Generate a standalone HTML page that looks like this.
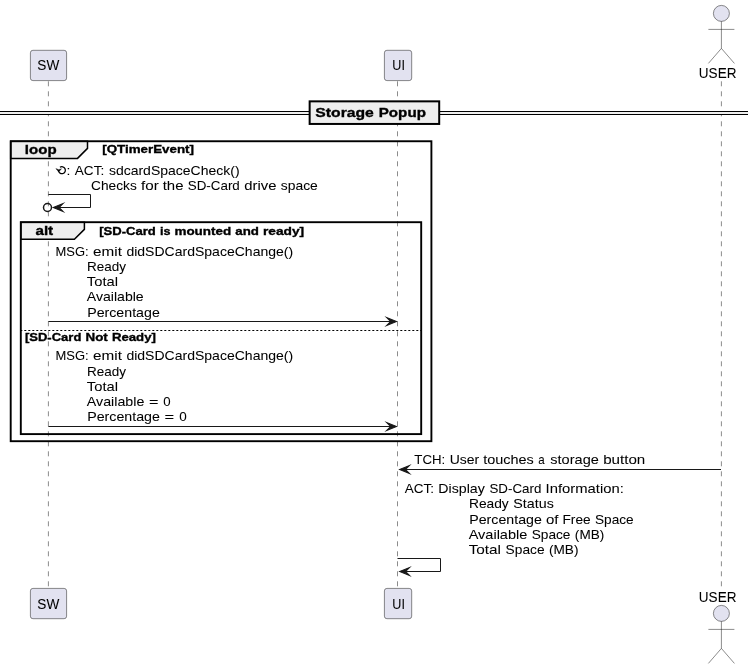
<!DOCTYPE html>
<html><head><meta charset="utf-8"><title>Storage Popup sequence diagram</title>
<style>
html,body{margin:0;padding:0;background:#ffffff;}
body{width:754px;height:669px;overflow:hidden;font-family:"Liberation Sans",sans-serif;}
svg{display:block;will-change:transform;}
</style></head><body>
<svg width="754" height="669" viewBox="0 0 754 669" font-family="'Liberation Sans', sans-serif">
<rect x="0" y="0" width="754" height="669" fill="#FFFFFF"/>
<line x1="48.4" y1="81.3" x2="48.4" y2="588.3" stroke="#181818" stroke-width="0.5" stroke-dasharray="5,5"/>
<line x1="397.5" y1="81.3" x2="397.5" y2="588.3" stroke="#181818" stroke-width="0.5" stroke-dasharray="5,5"/>
<line x1="721.4" y1="81.3" x2="721.4" y2="588.3" stroke="#181818" stroke-width="0.5" stroke-dasharray="5,5"/>
<rect x="30.4" y="50.3" width="36.2" height="30.3" rx="2.5" ry="2.5" fill="#E2E2F0" stroke="#181818" stroke-width="0.5"/>
<text y="69.90" font-size="14.42" stroke="#000000" stroke-width="0.05" fill="#000000"><tspan x="37.33" textLength="21.91" lengthAdjust="spacingAndGlyphs">SW</tspan></text>
<rect x="384.4" y="50.3" width="27.3" height="30.3" rx="2.5" ry="2.5" fill="#E2E2F0" stroke="#181818" stroke-width="0.5"/>
<text y="69.90" font-size="14.42" stroke="#000000" stroke-width="0.05" fill="#000000"><tspan x="392.33" textLength="12.58" lengthAdjust="spacingAndGlyphs">UI</tspan></text>
<rect x="30.4" y="588.4" width="36.2" height="30.3" rx="2.5" ry="2.5" fill="#E2E2F0" stroke="#181818" stroke-width="0.5"/>
<text y="608.90" font-size="14.42" stroke="#000000" stroke-width="0.05" fill="#000000"><tspan x="37.33" textLength="21.91" lengthAdjust="spacingAndGlyphs">SW</tspan></text>
<rect x="384.4" y="588.4" width="27.3" height="30.3" rx="2.5" ry="2.5" fill="#E2E2F0" stroke="#181818" stroke-width="0.5"/>
<text y="608.90" font-size="14.42" stroke="#000000" stroke-width="0.05" fill="#000000"><tspan x="392.33" textLength="12.58" lengthAdjust="spacingAndGlyphs">UI</tspan></text>
<ellipse cx="721.4" cy="13.4" rx="8" ry="8" fill="#E2E2F0" stroke="#181818" stroke-width="0.5"/>
<path d="M721.4,21.4 L721.4,48.4 M708.4,29.4 L734.4,29.4 M721.4,48.4 L708.4,63.4 M721.4,48.4 L734.4,63.4" fill="none" stroke="#181818" stroke-width="0.5"/>
<text y="78.00" font-size="14.42" stroke="#000000" stroke-width="0.05" fill="#000000"><tspan x="698.86" textLength="37.57" lengthAdjust="spacingAndGlyphs">USER</tspan></text>
<text y="601.50" font-size="14.42" stroke="#000000" stroke-width="0.05" fill="#000000"><tspan x="698.86" textLength="37.57" lengthAdjust="spacingAndGlyphs">USER</tspan></text>
<ellipse cx="721.4" cy="613.4" rx="8" ry="8" fill="#E2E2F0" stroke="#181818" stroke-width="0.5"/>
<path d="M721.4,621.4 L721.4,648.4 M708.4,629.4 L734.4,629.4 M721.4,648.4 L708.4,663.4 M721.4,648.4 L734.4,663.4" fill="none" stroke="#181818" stroke-width="0.5"/>
<rect x="0" y="111.5" width="748" height="3" fill="#EEEEEE"/>
<line x1="0" y1="111.5" x2="748" y2="111.5" stroke="#000000" stroke-width="1"/>
<line x1="0" y1="114.5" x2="748" y2="114.5" stroke="#000000" stroke-width="1"/>
<rect x="309.65" y="101.35" width="129.55" height="22.6" fill="#EEEEEE" stroke="#000000" stroke-width="2"/>
<text y="116.70" font-size="13.39" font-weight="bold" stroke="#000000" stroke-width="0.35" fill="#000000"><tspan x="315.35" textLength="58.48" lengthAdjust="spacingAndGlyphs">Storage</tspan> <tspan x="378.76" textLength="47.16" lengthAdjust="spacingAndGlyphs">Popup</tspan></text>
<path d="M10.7,141.25 L87.5,141.25 L87.5,148.38 L77.5,158.38 L10.7,158.38 Z" fill="#EEEEEE" stroke="#000000" stroke-width="1.5"/>
<rect x="10.7" y="141.25" width="420.7" height="299.95" fill="none" stroke="#000000" stroke-width="1.9"/>
<text y="153.80" font-size="13.39" font-weight="bold" stroke="#000000" stroke-width="0.35" fill="#000000"><tspan x="24.85" textLength="31.77" lengthAdjust="spacingAndGlyphs">loop</tspan></text>
<text y="153.00" font-size="11.33" font-weight="bold" stroke="#000000" stroke-width="0.35" fill="#000000"><tspan x="102.25" textLength="91.69" lengthAdjust="spacingAndGlyphs">[QTimerEvent]</tspan></text>
<path d="M20.8,222.2 L84.4,222.2 L84.4,229.32999999999998 L74.4,239.32999999999998 L20.8,239.32999999999998 Z" fill="#EEEEEE" stroke="#000000" stroke-width="1.5"/>
<rect x="20.8" y="222.2" width="400.4" height="211.9" fill="none" stroke="#000000" stroke-width="1.9"/>
<text y="235.40" font-size="13.39" font-weight="bold" stroke="#000000" stroke-width="0.35" fill="#000000"><tspan x="35.45" textLength="17.73" lengthAdjust="spacingAndGlyphs">alt</tspan></text>
<text y="234.90" font-size="11.33" font-weight="bold" stroke="#000000" stroke-width="0.35" fill="#000000"><tspan x="99.17" textLength="56.68" lengthAdjust="spacingAndGlyphs">[SD-Card</tspan> <tspan x="159.94" textLength="10.52" lengthAdjust="spacingAndGlyphs">is</tspan> <tspan x="174.47" textLength="56.71" lengthAdjust="spacingAndGlyphs">mounted</tspan> <tspan x="235.28" textLength="23.61" lengthAdjust="spacingAndGlyphs">and</tspan> <tspan x="262.95" textLength="41.28" lengthAdjust="spacingAndGlyphs">ready]</tspan></text>
<line x1="20.3" y1="330.5" x2="421.2" y2="330.5" stroke="#000000" stroke-width="1" stroke-dasharray="2,2"/>
<text y="340.50" font-size="11.33" font-weight="bold" stroke="#000000" stroke-width="0.35" fill="#000000"><tspan x="24.97" textLength="56.36" lengthAdjust="spacingAndGlyphs">[SD-Card</tspan> <tspan x="85.47" textLength="22.28" lengthAdjust="spacingAndGlyphs">Not</tspan> <tspan x="111.92" textLength="44.03" lengthAdjust="spacingAndGlyphs">Ready]</tspan></text>
<path d="M59.95,167.3 A3.5,3.5 0 1 1 58.5,171.2" fill="none" stroke="#000000" stroke-width="1.25"/>
<path d="M55.9,168.6 L58.7,172.0 L61.5,168.7 L58.7,169.7 Z" fill="#000000" stroke="#000000" stroke-width="0.4" stroke-linejoin="round"/>
<text y="174.50" font-size="13.39" stroke="#000000" stroke-width="0.05" fill="#000000"><tspan x="66.64" textLength="3.84" lengthAdjust="spacingAndGlyphs">:</tspan> <tspan x="74.84" textLength="29.38" lengthAdjust="spacingAndGlyphs">ACT:</tspan> <tspan x="108.91" textLength="130.66" lengthAdjust="spacingAndGlyphs">sdcardSpaceCheck()</tspan></text>
<text y="189.60" font-size="13.39" stroke="#000000" stroke-width="0.05" fill="#000000"><tspan x="91.10" textLength="45.71" lengthAdjust="spacingAndGlyphs">Checks</tspan> <tspan x="141.07" textLength="17.70" lengthAdjust="spacingAndGlyphs">for</tspan> <tspan x="162.69" textLength="20.79" lengthAdjust="spacingAndGlyphs">the</tspan> <tspan x="187.79" textLength="52.03" lengthAdjust="spacingAndGlyphs">SD-Card</tspan> <tspan x="244.24" textLength="32.16" lengthAdjust="spacingAndGlyphs">drive</tspan> <tspan x="280.78" textLength="37.03" lengthAdjust="spacingAndGlyphs">space</tspan></text>
<line x1="48.4" y1="194.5" x2="90.5" y2="194.5" stroke="#181818" stroke-width="1"/>
<line x1="90.5" y1="194.5" x2="90.5" y2="207.5" stroke="#181818" stroke-width="1"/>
<line x1="53.5" y1="207.5" x2="90.5" y2="207.5" stroke="#181818" stroke-width="1"/>
<polygon points="63.2,203.5 53.2,207.5 63.2,211.5 59.2,207.5" fill="#181818" stroke="#181818" stroke-width="1.02" stroke-miterlimit="10"/>
<ellipse cx="47.5" cy="207.5" rx="4" ry="4" fill="none" stroke="#181818" stroke-width="1.5"/>
<text y="255.80" font-size="13.39" stroke="#000000" stroke-width="0.05" fill="#000000"><tspan x="55.54" textLength="33.11" lengthAdjust="spacingAndGlyphs">MSG:</tspan> <tspan x="93.13" textLength="28.86" lengthAdjust="spacingAndGlyphs">emit</tspan> <tspan x="126.41" textLength="166.76" lengthAdjust="spacingAndGlyphs">didSDCardSpaceChange()</tspan></text>
<text y="270.93" font-size="13.39" stroke="#000000" stroke-width="0.05" fill="#000000"><tspan x="86.99" textLength="39.03" lengthAdjust="spacingAndGlyphs">Ready</tspan></text>
<text y="285.86" font-size="13.39" stroke="#000000" stroke-width="0.05" fill="#000000"><tspan x="86.89" textLength="31.10" lengthAdjust="spacingAndGlyphs">Total</tspan></text>
<text y="300.99" font-size="13.39" stroke="#000000" stroke-width="0.05" fill="#000000"><tspan x="86.82" textLength="56.90" lengthAdjust="spacingAndGlyphs">Available</tspan></text>
<text y="316.72" font-size="13.39" stroke="#000000" stroke-width="0.05" fill="#000000"><tspan x="87.18" textLength="72.65" lengthAdjust="spacingAndGlyphs">Percentage</tspan></text>
<polygon points="386.5,317.5 396.5,321.5 386.5,325.5 390.5,321.5" fill="#181818" stroke="#181818" stroke-width="1.02" stroke-miterlimit="10"/>
<line x1="48.4" y1="321.5" x2="392.5" y2="321.5" stroke="#181818" stroke-width="1"/>
<text y="360.20" font-size="13.39" stroke="#000000" stroke-width="0.05" fill="#000000"><tspan x="55.54" textLength="33.11" lengthAdjust="spacingAndGlyphs">MSG:</tspan> <tspan x="93.13" textLength="28.86" lengthAdjust="spacingAndGlyphs">emit</tspan> <tspan x="126.41" textLength="166.76" lengthAdjust="spacingAndGlyphs">didSDCardSpaceChange()</tspan></text>
<text y="375.98" font-size="13.39" stroke="#000000" stroke-width="0.05" fill="#000000"><tspan x="86.99" textLength="39.03" lengthAdjust="spacingAndGlyphs">Ready</tspan></text>
<text y="390.66" font-size="13.39" stroke="#000000" stroke-width="0.05" fill="#000000"><tspan x="86.89" textLength="31.10" lengthAdjust="spacingAndGlyphs">Total</tspan></text>
<text y="405.59" font-size="13.39" stroke="#000000" stroke-width="0.05" fill="#000000"><tspan x="86.82" textLength="57.54" lengthAdjust="spacingAndGlyphs">Available</tspan> <tspan x="148.94" textLength="9.46" lengthAdjust="spacingAndGlyphs">=</tspan> <tspan x="163.25" textLength="7.37" lengthAdjust="spacingAndGlyphs">0</tspan></text>
<text y="420.57" font-size="13.39" stroke="#000000" stroke-width="0.05" fill="#000000"><tspan x="87.18" textLength="72.75" lengthAdjust="spacingAndGlyphs">Percentage</tspan> <tspan x="164.62" textLength="9.65" lengthAdjust="spacingAndGlyphs">=</tspan> <tspan x="179.21" textLength="7.52" lengthAdjust="spacingAndGlyphs">0</tspan></text>
<polygon points="386.5,422.5 396.5,426.5 386.5,430.5 390.5,426.5" fill="#181818" stroke="#181818" stroke-width="1.02" stroke-miterlimit="10"/>
<line x1="48.4" y1="426.5" x2="392.5" y2="426.5" stroke="#181818" stroke-width="1"/>
<text y="464.30" font-size="13.39" stroke="#000000" stroke-width="0.05" fill="#000000"><tspan x="414.35" textLength="30.89" lengthAdjust="spacingAndGlyphs">TCH:</tspan> <tspan x="449.66" textLength="29.51" lengthAdjust="spacingAndGlyphs">User</tspan> <tspan x="483.16" textLength="50.68" lengthAdjust="spacingAndGlyphs">touches</tspan> <tspan x="538.31" textLength="6.43" lengthAdjust="spacingAndGlyphs">a</tspan> <tspan x="550.30" textLength="48.54" lengthAdjust="spacingAndGlyphs">storage</tspan> <tspan x="603.15" textLength="42.13" lengthAdjust="spacingAndGlyphs">button</tspan></text>
<polygon points="409.6,465.5 399.6,469.5 409.6,473.5 405.6,469.5" fill="#181818" stroke="#181818" stroke-width="1.02" stroke-miterlimit="10"/>
<line x1="403.6" y1="469.5" x2="721.0" y2="469.5" stroke="#181818" stroke-width="1"/>
<text y="492.75" font-size="13.39" stroke="#000000" stroke-width="0.05" fill="#000000"><tspan x="404.67" textLength="29.26" lengthAdjust="spacingAndGlyphs">ACT:</tspan> <tspan x="438.38" textLength="46.46" lengthAdjust="spacingAndGlyphs">Display</tspan> <tspan x="489.46" textLength="51.92" lengthAdjust="spacingAndGlyphs">SD-Card</tspan> <tspan x="545.61" textLength="78.14" lengthAdjust="spacingAndGlyphs">Information:</tspan></text>
<text y="507.90" font-size="13.39" stroke="#000000" stroke-width="0.05" fill="#000000"><tspan x="468.97" textLength="39.79" lengthAdjust="spacingAndGlyphs">Ready</tspan> <tspan x="513.37" textLength="40.44" lengthAdjust="spacingAndGlyphs">Status</tspan></text>
<text y="523.70" font-size="13.39" stroke="#000000" stroke-width="0.05" fill="#000000"><tspan x="469.24" textLength="72.59" lengthAdjust="spacingAndGlyphs">Percentage</tspan> <tspan x="546.02" textLength="12.48" lengthAdjust="spacingAndGlyphs">of</tspan> <tspan x="562.48" textLength="28.16" lengthAdjust="spacingAndGlyphs">Free</tspan> <tspan x="595.01" textLength="38.70" lengthAdjust="spacingAndGlyphs">Space</tspan></text>
<text y="538.60" font-size="13.39" stroke="#000000" stroke-width="0.05" fill="#000000"><tspan x="468.67" textLength="58.69" lengthAdjust="spacingAndGlyphs">Available</tspan> <tspan x="531.70" textLength="38.78" lengthAdjust="spacingAndGlyphs">Space</tspan> <tspan x="574.89" textLength="29.35" lengthAdjust="spacingAndGlyphs">(MB)</tspan></text>
<text y="554.00" font-size="13.39" stroke="#000000" stroke-width="0.05" fill="#000000"><tspan x="468.67" textLength="32.39" lengthAdjust="spacingAndGlyphs">Total</tspan> <tspan x="505.61" textLength="38.94" lengthAdjust="spacingAndGlyphs">Space</tspan> <tspan x="548.98" textLength="29.46" lengthAdjust="spacingAndGlyphs">(MB)</tspan></text>
<line x1="397.5" y1="558.5" x2="440.5" y2="558.5" stroke="#181818" stroke-width="1"/>
<line x1="440.5" y1="558.5" x2="440.5" y2="571.5" stroke="#181818" stroke-width="1"/>
<line x1="401.5" y1="571.5" x2="440.5" y2="571.5" stroke="#181818" stroke-width="1"/>
<polygon points="409.7,567.5 399.7,571.5 409.7,575.5 405.7,571.5" fill="#181818" stroke="#181818" stroke-width="1.02" stroke-miterlimit="10"/>
</svg>
</body></html>
